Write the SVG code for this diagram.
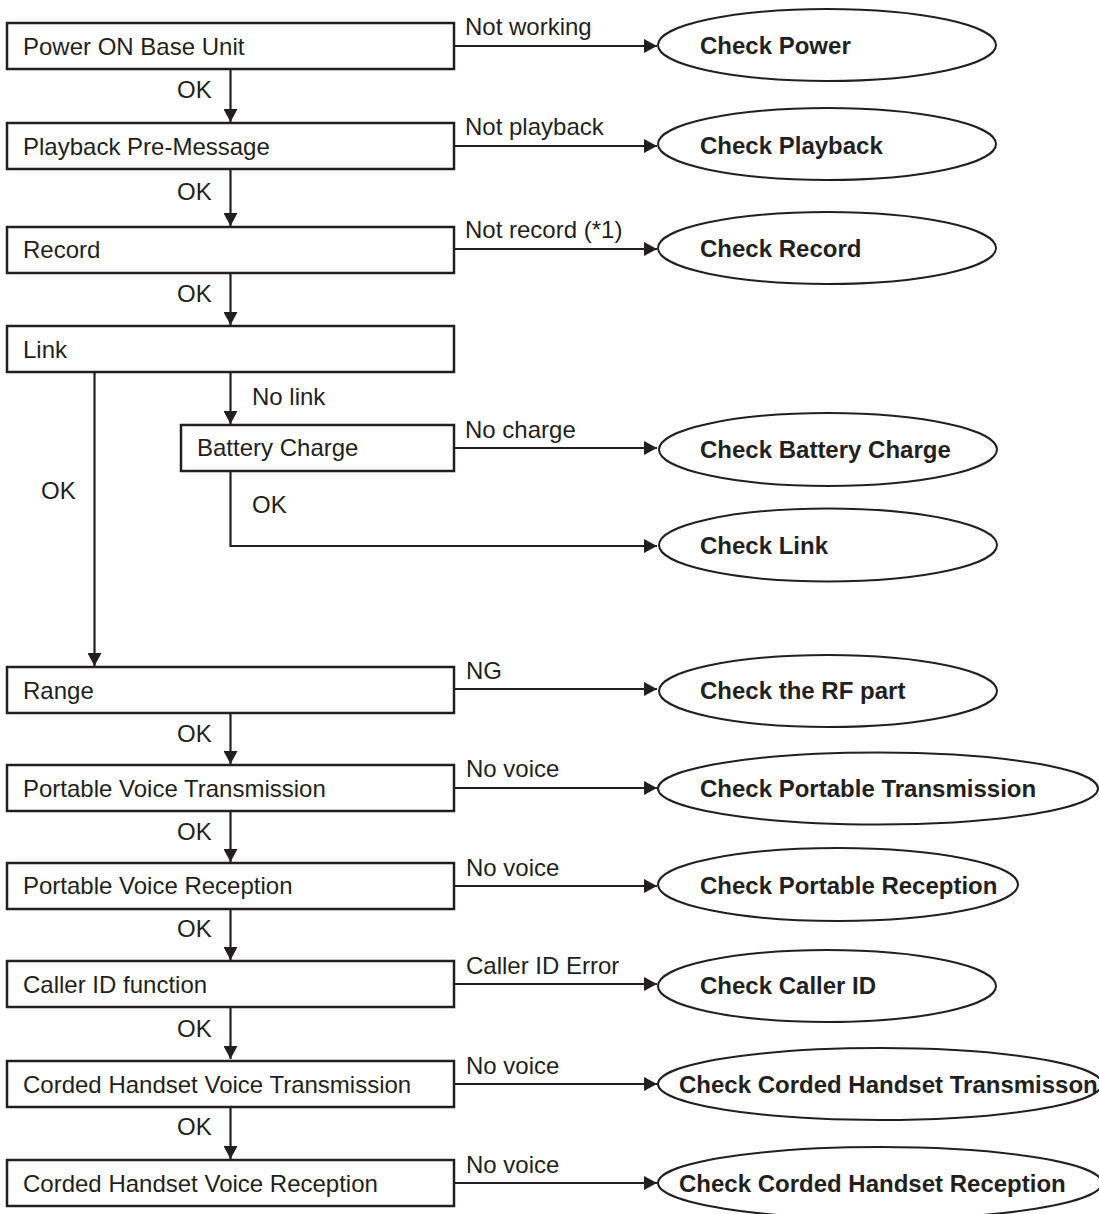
<svg xmlns="http://www.w3.org/2000/svg" width="1099" height="1214" viewBox="0 0 1099 1214">
<style>
.box{fill:#fff;stroke:#231f20;stroke-width:2.5}
.ell{fill:#fff;stroke:#231f20;stroke-width:2}
.ln{fill:none;stroke:#231f20;stroke-width:2.2}
.t{font-family:"Liberation Sans",Arial,sans-serif;font-size:24px;fill:#231f20}
.b{font-family:"Liberation Sans",Arial,sans-serif;font-size:24px;font-weight:bold;fill:#231f20}
</style>
<defs>
<marker id="ah" markerUnits="userSpaceOnUse" viewBox="0 0 13 14" refX="13" refY="7" markerWidth="13" markerHeight="14" orient="auto">
<path d="M0,0 L13,7 L0,14 Z" fill="#231f20"/>
</marker>
</defs>
<rect width="1099" height="1214" fill="#fff"/>

<g id="connectors">
<line class="ln" x1="230.5" y1="69" x2="230.5" y2="122" marker-end="url(#ah)"/>
<line class="ln" x1="230.5" y1="169" x2="230.5" y2="226" marker-end="url(#ah)"/>
<line class="ln" x1="230.5" y1="273" x2="230.5" y2="325" marker-end="url(#ah)"/>
<line class="ln" x1="230.5" y1="372" x2="230.5" y2="424" marker-end="url(#ah)"/>
<line class="ln" x1="94.5" y1="372" x2="94.5" y2="666" marker-end="url(#ah)"/>
<polyline class="ln" points="230.5,471 230.5,546 657,546" marker-end="url(#ah)"/>
<line class="ln" x1="230.5" y1="713" x2="230.5" y2="764" marker-end="url(#ah)"/>
<line class="ln" x1="230.5" y1="811" x2="230.5" y2="862" marker-end="url(#ah)"/>
<line class="ln" x1="230.5" y1="909" x2="230.5" y2="960" marker-end="url(#ah)"/>
<line class="ln" x1="230.5" y1="1007" x2="230.5" y2="1059" marker-end="url(#ah)"/>
<line class="ln" x1="230.5" y1="1107" x2="230.5" y2="1159" marker-end="url(#ah)"/>
<line class="ln" x1="454" y1="46" x2="657" y2="46" marker-end="url(#ah)"/>
<line class="ln" x1="454" y1="146" x2="657" y2="146" marker-end="url(#ah)"/>
<line class="ln" x1="454" y1="249" x2="657" y2="249" marker-end="url(#ah)"/>
<line class="ln" x1="454" y1="448" x2="657" y2="448" marker-end="url(#ah)"/>
<line class="ln" x1="454" y1="689" x2="657" y2="689" marker-end="url(#ah)"/>
<line class="ln" x1="454" y1="788" x2="657" y2="788" marker-end="url(#ah)"/>
<line class="ln" x1="454" y1="886" x2="657" y2="886" marker-end="url(#ah)"/>
<line class="ln" x1="454" y1="984" x2="657" y2="984" marker-end="url(#ah)"/>
<line class="ln" x1="454" y1="1084" x2="657" y2="1084" marker-end="url(#ah)"/>
<line class="ln" x1="454" y1="1183" x2="657" y2="1183" marker-end="url(#ah)"/>
<text class="t" x="177" y="98">OK</text>
<text class="t" x="177" y="200">OK</text>
<text class="t" x="177" y="302">OK</text>
<text class="t" x="252" y="405">No link</text>
<text class="t" x="41" y="499">OK</text>
<text class="t" x="252" y="513">OK</text>
<text class="t" x="177" y="742">OK</text>
<text class="t" x="177" y="840">OK</text>
<text class="t" x="177" y="937">OK</text>
<text class="t" x="177" y="1037">OK</text>
<text class="t" x="177" y="1135">OK</text>
<text class="t" x="465" y="35">Not working</text>
<text class="t" x="465" y="135">Not playback</text>
<text class="t" x="465" y="238">Not record (*1)</text>
<text class="t" x="465" y="438">No charge</text>
<text class="t" x="466" y="679">NG</text>
<text class="t" x="466" y="777">No voice</text>
<text class="t" x="466" y="876">No voice</text>
<text class="t" x="466" y="974">Caller ID Error</text>
<text class="t" x="466" y="1074">No voice</text>
<text class="t" x="466" y="1173">No voice</text>
</g>

<g id="n-power"><rect class="box" x="7" y="23" width="447" height="46"/><text class="t" x="23" y="55">Power ON Base Unit</text></g>
<g id="n-playback"><rect class="box" x="7" y="123" width="447" height="46"/><text class="t" x="23" y="155">Playback Pre-Message</text></g>
<g id="n-record"><rect class="box" x="7" y="227" width="447" height="46"/><text class="t" x="23" y="258">Record</text></g>
<g id="n-link"><rect class="box" x="7" y="326" width="447" height="46"/><text class="t" x="23" y="358">Link</text></g>
<g id="n-battery"><rect class="box" x="181" y="425" width="273" height="46"/><text class="t" x="197" y="456">Battery Charge</text></g>
<g id="n-range"><rect class="box" x="7" y="667" width="447" height="46"/><text class="t" x="23" y="699">Range</text></g>
<g id="n-pvt"><rect class="box" x="7" y="765" width="447" height="46"/><text class="t" x="23" y="797">Portable Voice Transmission</text></g>
<g id="n-pvr"><rect class="box" x="7" y="863" width="447" height="46"/><text class="t" x="23" y="894">Portable Voice Reception</text></g>
<g id="n-cid"><rect class="box" x="7" y="961" width="447" height="46"/><text class="t" x="23" y="993">Caller ID function</text></g>
<g id="n-cht"><rect class="box" x="7" y="1061" width="447" height="46"/><text class="t" x="23" y="1093">Corded Handset Voice Transmission</text></g>
<g id="n-chr"><rect class="box" x="7" y="1160" width="447" height="46"/><text class="t" x="23" y="1192">Corded Handset Voice Reception</text></g>

<g id="e-power"><ellipse class="ell" cx="827" cy="45" rx="169" ry="36"/><text class="b" x="700" y="54">Check Power</text></g>
<g id="e-playback"><ellipse class="ell" cx="827" cy="144" rx="169" ry="36"/><text class="b" x="700" y="154">Check Playback</text></g>
<g id="e-record"><ellipse class="ell" cx="827" cy="248" rx="169" ry="36"/><text class="b" x="700" y="257">Check Record</text></g>
<g id="e-battery"><ellipse class="ell" cx="828" cy="449.5" rx="169" ry="36.5"/><text class="b" x="700" y="458">Check Battery Charge</text></g>
<g id="e-link"><ellipse class="ell" cx="828" cy="545" rx="169" ry="36.5"/><text class="b" x="700" y="554">Check Link</text></g>
<g id="e-rf"><ellipse class="ell" cx="828" cy="691" rx="169" ry="36"/><text class="b" x="700" y="699">Check the RF part</text></g>
<g id="e-pt"><ellipse class="ell" cx="878" cy="788.5" rx="220" ry="36"/><text class="b" x="700" y="797">Check Portable Transmission</text></g>
<g id="e-pr"><ellipse class="ell" cx="838" cy="884.5" rx="180" ry="36.5"/><text class="b" x="700" y="894">Check Portable Reception</text></g>
<g id="e-cid"><ellipse class="ell" cx="827" cy="986" rx="169" ry="36"/><text class="b" x="700" y="994">Check Caller ID</text></g>
<g id="e-cht"><ellipse class="ell" cx="880" cy="1084" rx="222" ry="36"/><text class="b" x="679" y="1093">Check Corded Handset Transmisson</text></g>
<g id="e-chr"><ellipse class="ell" cx="880" cy="1183" rx="222" ry="36"/><text class="b" x="679" y="1192">Check Corded Handset Reception</text></g>
</svg>
